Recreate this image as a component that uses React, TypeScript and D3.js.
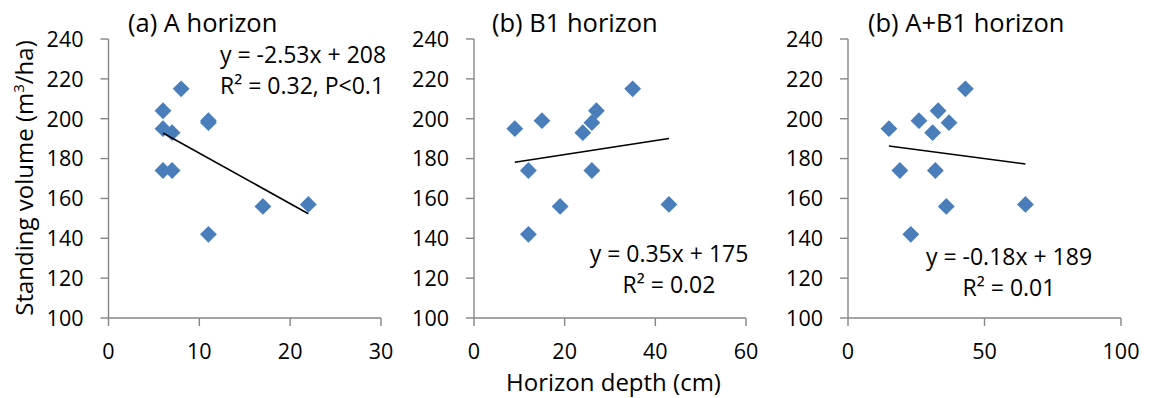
import React from "react";
import * as d3 from "d3";

// ---- data ----
const volume = [215, 204, 199, 198, 195, 193, 174, 174, 142, 156, 157];
const depthA = [8, 6, 11, 11, 6, 7, 7, 6, 11, 17, 22];
const depthB = [35, 27, 15, 26, 9, 24, 12, 26, 12, 19, 43];
const depthAB = [43, 33, 26, 37, 15, 31, 19, 32, 23, 36, 65];

const panelTitles = ["(a) A horizon", "(b) B1 horizon", "(b) A+B1 horizon"];
const xMaxes = [30, 60, 100];
const xTickValues = [
  [0, 10, 20, 30],
  [0, 20, 40, 60],
  [0, 50, 100],
];
const yTickValues = [100, 120, 140, 160, 180, 200, 220, 240];
const slopes = [-2.53, 0.35, -0.18];
const intercepts = [208, 175, 189];
const eqLine1 = ["y = -2.53x + 208", "y = 0.35x + 175", "y = -0.18x + 189"];
const eqLine2 = ["R² = 0.32, P<0.1", "R² = 0.02", "R² = 0.01"];
const yTitle = "Standing volume (m";
const xTitle = "Horizon depth (cm)";

// ---- layout ----
const W = 1152;
const H = 398;
const TOP = 39;
const BOTTOM = 318;
const panelX = [
  [108.5, 381],
  [474, 746],
  [848, 1121],
];
const eqPos = [
  { x: 220, y: 63, anchor: "start" },
  { x: 669, y: 262, anchor: "middle" },
  { x: 1009, y: 265, anchor: "middle" },
];
const titleX = [128, 492, 868];
const FONT = "'Open Sans', sans-serif";
const AXIS = "#868686";
const MARK = "#4A7EBB";

const depths = [depthA, depthB, depthAB];

export default function App() {
  const y = d3.scaleLinear().domain([100, 240]).range([BOTTOM, TOP]);
  const diamond = d3.symbol().type(d3.symbolDiamond2).size(2 * 9.5 * 9.5)();

  return (
    <svg
      width={W}
      height={H}
      style={{ position: "absolute", left: 0, top: 0, background: "#fff" }}
      fontFamily={FONT}
    >
      <rect width={W} height={H} fill="#fff" />
      {panelX.map((px, i) => {
        const x = d3.scaleLinear().domain([0, xMaxes[i]]).range(px);
        const xs = depths[i];
        const lx0 = d3.min(xs) as number;
        const lx1 = d3.max(xs) as number;
        const ep = eqPos[i];
        return (
          <g key={i}>
            <text x={titleX[i]} y={32} fontSize={25.5} fill="#000">
              {panelTitles[i]}
            </text>
            {/* axes */}
            <line x1={px[0]} x2={px[0]} y1={TOP} y2={BOTTOM} stroke={AXIS} strokeWidth={1.4} />
            <line x1={px[0]} x2={px[1]} y1={BOTTOM} y2={BOTTOM} stroke={AXIS} strokeWidth={1.4} />
            {yTickValues.map((t) => (
              <g key={"y" + t}>
                <line x1={px[0] - 8} x2={px[0]} y1={y(t)} y2={y(t)} stroke={AXIS} strokeWidth={1.4} />
                <text x={px[0] - 25} y={y(t) + 7.8} textAnchor="end" fontSize={21.5}>
                  {t}
                </text>
              </g>
            ))}
            {xTickValues[i].map((t) => (
              <g key={"x" + t}>
                <line x1={x(t)} x2={x(t)} y1={BOTTOM} y2={BOTTOM + 8} stroke={AXIS} strokeWidth={1.4} />
                <text x={x(t)} y={359} textAnchor="middle" fontSize={21.5}>
                  {t}
                </text>
              </g>
            ))}
            {/* points */}
            {xs.map((d, j) => (
              <path key={j} d={diamond} transform={`translate(${x(d)},${y(volume[j])})`} fill={MARK} />
            ))}
            {/* trend line */}
            <line
              x1={x(lx0)}
              y1={y(slopes[i] * lx0 + intercepts[i])}
              x2={x(lx1)}
              y2={y(slopes[i] * lx1 + intercepts[i])}
              stroke="#000"
              strokeWidth={1.6}
            />
            <text x={ep.x} y={ep.y} textAnchor={ep.anchor as any} fontSize={23}>
              {eqLine1[i]}
            </text>
            <text x={ep.x} y={ep.y + 31} textAnchor={ep.anchor as any} fontSize={23}>
              {eqLine2[i]}
            </text>
          </g>
        );
      })}
      <text
        transform="translate(33,178) rotate(-90)"
        textAnchor="middle"
        fontSize={24}
      >
        {yTitle}
        <tspan dy={-9} fontSize={15}>3</tspan>
        <tspan dy={9}>/ha)</tspan>
      </text>
      <text x={613.5} y={391} textAnchor="middle" fontSize={24}>
        {xTitle}
      </text>
    </svg>
  );
}
